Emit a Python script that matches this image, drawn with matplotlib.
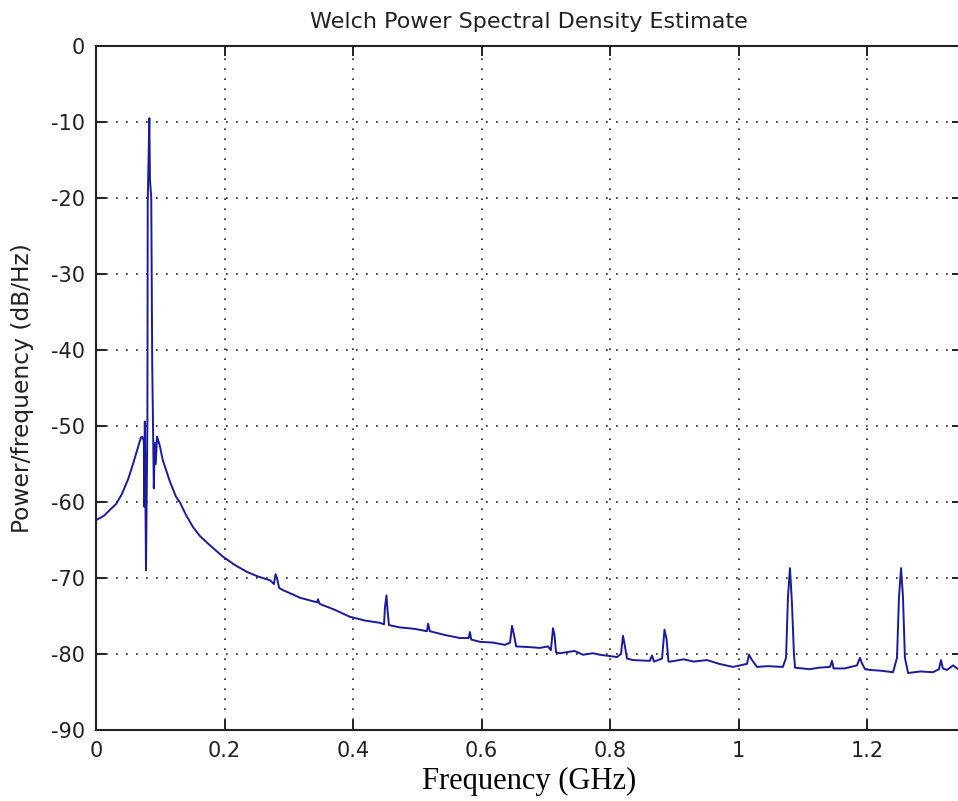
import matplotlib
matplotlib.use("Agg")
import matplotlib.pyplot as plt

# Frequency (GHz) and PSD (dB/Hz)
freq_ghz = [
    0.000, 0.0125, 0.022, 0.031, 0.040, 0.050, 0.0576, 0.0654, 0.0700, 0.0720,
    0.0745, 0.0752, 0.0760, 0.0778, 0.0800, 0.0805, 0.0830, 0.0840, 0.0860, 0.0875,
    0.0900, 0.0915, 0.0930, 0.0950, 0.0990, 0.104, 0.115, 0.1245, 0.131, 0.140,
    0.151, 0.162, 0.1774, 0.1977, 0.2163, 0.235, 0.252, 0.2708, 0.277, 0.2794,
    0.2817, 0.285, 0.291, 0.302, 0.3175, 0.344, 0.3455, 0.348, 0.372, 0.395,
    0.4187, 0.442, 0.4483, 0.4498, 0.4521, 0.4537, 0.456, 0.473, 0.4965, 0.515,
    0.517, 0.5195, 0.543, 0.5665, 0.580, 0.582, 0.584, 0.5977, 0.618, 0.6366,
    0.6444, 0.6475, 0.6506, 0.654, 0.6755, 0.691, 0.7035, 0.708, 0.7113, 0.7136,
    0.716, 0.722, 0.745, 0.758, 0.7735, 0.7844, 0.811, 0.8171, 0.8202, 0.8233,
    0.8265, 0.8358, 0.862, 0.8654, 0.8685, 0.881, 0.8848, 0.888, 0.891, 0.8934,
    0.915, 0.930, 0.951, 0.970, 0.9914, 1.0132, 1.0163, 1.021, 1.0288, 1.045,
    1.069, 1.074, 1.077, 1.0801, 1.0832, 1.0863, 1.088, 1.111, 1.125, 1.1424,
    1.1455, 1.148, 1.165, 1.1844, 1.1891, 1.192, 1.197, 1.2047, 1.222, 1.2405,
    1.2467, 1.2498, 1.253, 1.256, 1.259, 1.264, 1.283, 1.3027, 1.312, 1.3152,
    1.318, 1.3245, 1.334, 1.342, 1.36,
]
psd_db = [
    -62.4, -61.8, -61.0, -60.3, -59.0, -57.0, -55.0, -52.8, -51.5, -51.4,
    -52.0, -60.6, -49.4, -69.0, -49.5, -20.6, -9.5, -17.6, -20.0, -41.7,
    -58.2, -52.2, -55.0, -51.4, -52.5, -54.5, -57.3, -59.3, -60.1, -61.7,
    -63.3, -64.5, -65.7, -67.2, -68.3, -69.2, -69.8, -70.3, -70.8, -69.5,
    -70.0, -71.3, -71.6, -72.0, -72.6, -73.2, -72.8, -73.4, -74.2, -75.1,
    -75.6, -75.9, -76.1, -73.8, -72.3, -74.2, -76.2, -76.5, -76.7, -77.0,
    -76.0, -77.0, -77.5, -77.9, -77.9, -77.1, -78.1, -78.4, -78.5, -78.8,
    -78.5, -76.3, -77.5, -79.0, -79.1, -79.2, -79.0, -79.5, -76.6, -77.5,
    -79.8, -79.9, -79.6, -80.1, -79.9, -80.1, -80.4, -80.0, -77.6, -79.0,
    -80.6, -80.8, -80.9, -80.2, -81.0, -80.6, -76.8, -78.0, -81.0, -81.0,
    -80.7, -81.0, -80.8, -81.3, -81.7, -81.3, -80.1, -80.8, -81.7, -81.6,
    -81.7, -80.5, -72.5, -68.7, -73.3, -80.0, -81.8, -82.0, -81.8, -81.7,
    -80.9, -81.9, -81.9, -81.5, -80.5, -81.2, -82.0, -82.1, -82.2, -82.4,
    -80.5, -72.5, -68.7, -72.5, -80.5, -82.5, -82.3, -82.4, -82.0, -80.8,
    -81.9, -82.1, -81.5, -82.0, -82.2,
]

x_ticks = [0, 0.2, 0.4, 0.6, 0.8, 1.0, 1.2]
x_tick_labels = ["0", "0.2", "0.4", "0.6", "0.8", "1", "1.2"]
y_ticks = [-90, -80, -70, -60, -50, -40, -30, -20, -10, 0]

plt.rcParams["axes.unicode_minus"] = False
plt.rcParams["font.family"] = ["DejaVu Sans"]

W, H = 958, 801
fig = plt.figure(figsize=(W / 100, H / 100), dpi=100)
left_px, right_px, top_px, bottom_px = 96, 962, 46, 730
x_max = (right_px - left_px) / 642.5
ax = fig.add_axes([left_px / W, 1 - bottom_px / H,
                   (right_px - left_px) / W, (bottom_px - top_px) / H])

ax.plot(freq_ghz, psd_db, color="#1a1a9e", linewidth=1.4)

ax.set_xlim(0, x_max)
ax.set_ylim(-90, 0)
ax.set_xticks(x_ticks)
ax.set_xticklabels(x_tick_labels)
ax.set_yticks(y_ticks)

ax.grid(True, color="#222222", linestyle=(0, (1, 5)), linewidth=1.2)
ax.tick_params(direction="in", length=7, width=1.4, labelsize=15,
               top=True, right=True, pad=8, colors="#222222")
for s in ax.spines.values():
    s.set_linewidth(1.5)
    s.set_color("#222222")

ax.set_title("Welch Power Spectral Density Estimate", fontsize=16, pad=13,
             color="#222222")
ax.set_ylabel("Power/frequency (dB/Hz)", fontsize=16.8, color="#222222",
              labelpad=12)
ax.set_xlabel("Frequency (GHz)", fontsize=22, family=["Liberation Serif"],
              color="black", labelpad=4)

fig.savefig("out.png", dpi=100)
